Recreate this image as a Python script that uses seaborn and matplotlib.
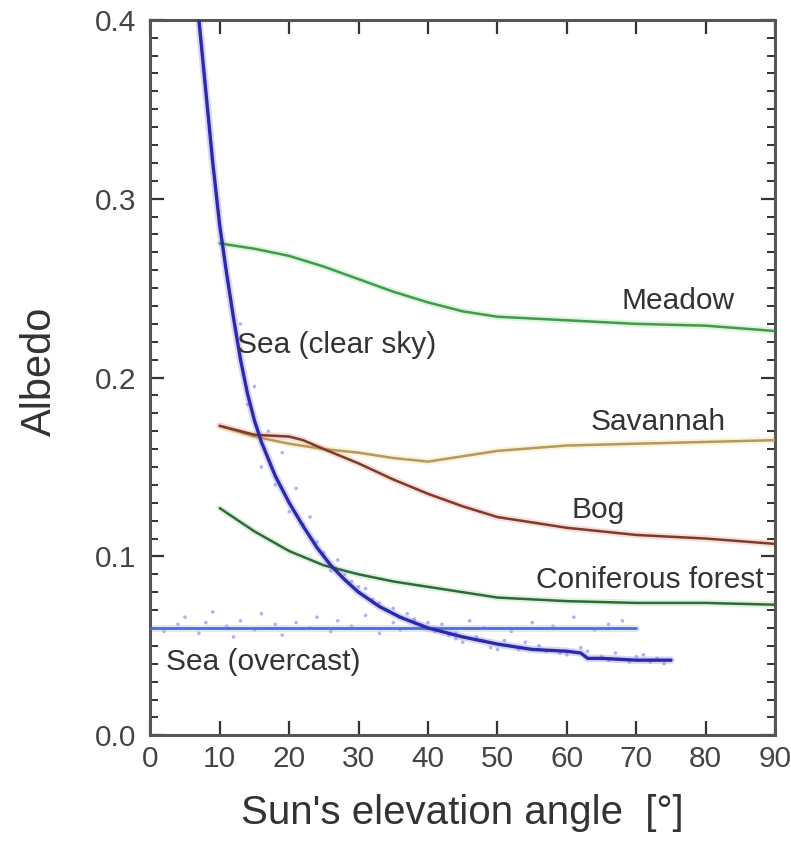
import matplotlib
matplotlib.use("Agg")
import matplotlib.pyplot as plt
import seaborn as sns
import pandas as pd
from matplotlib.ticker import MultipleLocator

# ---- data ----
meadow_x = [10, 15, 20, 25, 30, 35, 40, 45, 50, 55, 60, 70, 80, 90]
meadow_y = [0.275, 0.272, 0.268, 0.262, 0.255, 0.248, 0.242, 0.237, 0.234, 0.233, 0.232, 0.230, 0.229, 0.226]

savannah_x = [10, 15, 20, 25, 30, 35, 40, 45, 50, 60, 70, 80, 90]
savannah_y = [0.173, 0.167, 0.163, 0.160, 0.158, 0.155, 0.153, 0.156, 0.159, 0.162, 0.163, 0.164, 0.165]

bog_x = [10, 15, 20, 22, 25, 30, 35, 40, 45, 50, 60, 70, 80, 90]
bog_y = [0.173, 0.168, 0.167, 0.165, 0.160, 0.152, 0.143, 0.135, 0.128, 0.122, 0.116, 0.112, 0.110, 0.107]

conif_x = [10, 15, 20, 25, 30, 35, 40, 50, 60, 70, 80, 90]
conif_y = [0.127, 0.114, 0.103, 0.095, 0.090, 0.086, 0.083, 0.077, 0.075, 0.074, 0.074, 0.073]

clear_x = [6.5, 7, 8, 9, 10, 11, 12, 13, 14, 15, 16, 18, 20, 22, 24, 26, 28, 30, 33, 36,
           40, 45, 50, 55, 60, 62, 63, 65, 70, 75]
clear_y = [0.42, 0.40, 0.36, 0.32, 0.285, 0.258, 0.233, 0.210, 0.191, 0.176, 0.164, 0.145, 0.130,
           0.117, 0.105, 0.095, 0.087, 0.080, 0.072, 0.066, 0.060, 0.055, 0.051, 0.048, 0.047,
           0.046, 0.043, 0.043, 0.042, 0.042]

overcast_x = [0, 70]
overcast_y = [0.060, 0.060]

pts_x = [2, 4, 5, 7, 8, 9, 11, 12, 13, 15, 16, 18, 19, 21, 23, 24, 26, 27, 29, 31, 33, 35, 36,
         38, 42, 44, 46, 48, 52, 55, 58, 61, 64, 66, 68,
         13, 14, 15, 16, 17, 18, 19, 20, 21, 22, 23, 25, 27, 28, 30, 32, 34, 37, 39, 41, 43,
         45, 47, 49, 51, 53, 56, 59, 62, 65, 67, 69, 71, 73, 74,
         24, 26, 29, 31, 33, 35, 38, 40, 42, 44, 48, 50, 54, 57, 60, 63, 66, 70, 72]
pts_y = [0.058, 0.062, 0.066, 0.057, 0.063, 0.069, 0.061, 0.055, 0.064, 0.059, 0.068, 0.062,
         0.056, 0.063, 0.060, 0.066, 0.058, 0.064, 0.061, 0.067, 0.057, 0.063, 0.059,
         0.065, 0.062, 0.057, 0.064, 0.060, 0.058, 0.063, 0.061, 0.066, 0.059, 0.062, 0.064,
         0.230, 0.185, 0.195, 0.150, 0.170, 0.140, 0.158, 0.125, 0.138, 0.118, 0.122, 0.102,
         0.098, 0.090, 0.083, 0.076, 0.070, 0.068, 0.062, 0.058, 0.056, 0.052, 0.055, 0.049,
         0.053, 0.048, 0.050, 0.046, 0.049, 0.044, 0.046, 0.041, 0.045, 0.043, 0.040,
         0.108, 0.092, 0.086, 0.082, 0.074, 0.071, 0.064, 0.063, 0.058, 0.054, 0.053, 0.048,
         0.052, 0.047, 0.045, 0.047, 0.042, 0.044, 0.041]

labels = ["Meadow", "Sea (clear sky)", "Savannah", "Bog", "Coniferous forest", "Sea (overcast)"]
label_x = [76.0, 12.5, 73.1, 64.5, 72.0, 2.2]
label_y = [0.243, 0.218, 0.175, 0.126, 0.087, 0.041]

xticks = [0, 10, 20, 30, 40, 50, 60, 70, 80, 90]
yticks = [0.0, 0.1, 0.2, 0.3, 0.4]

# ---- plotting ----
sns.set_style("ticks")
plt.rcParams['font.family'] = ['Liberation Sans', 'DejaVu Sans']

fig = plt.figure(figsize=(7.91, 8.60), dpi=100)
ax = fig.add_axes([0.19, 0.145, 0.79, 0.832])

pts = pd.DataFrame({"x": pts_x, "y": pts_y})
sns.scatterplot(data=pts, x="x", y="y", ax=ax, s=7, color="#8a98ee", edgecolor="none",
                alpha=0.7, zorder=1)

def curve(xs, ys, color, halo, lw=1.8):
    df = pd.DataFrame({"x": xs, "y": ys})
    sns.lineplot(data=df, x="x", y="y", ax=ax, color=halo, lw=lw + 3, alpha=0.35, zorder=2)
    sns.lineplot(data=df, x="x", y="y", ax=ax, color=color, lw=lw, zorder=3)

curve(meadow_x, meadow_y, "#45984f", "#9be39b")
curve(savannah_x, savannah_y, "#b59a5e", "#f5dc9a")
curve(bog_x, bog_y, "#7e3a2e", "#e7a48a")
curve(conif_x, conif_y, "#2f6a3e", "#a8dca0")
curve(overcast_x, overcast_y, "#4a6fd6", "#aabdf5", lw=2.0)
curve(clear_x, clear_y, "#2b2aa8", "#8d8cf0", lw=2.4)

for t, lx, ly in zip(labels, label_x, label_y):
    ax.text(lx, ly, t, fontsize=21.5, color="#333333",
            ha="left" if t.startswith("Sea") else "center", va="center")

ax.set_xlim(0, 90)
ax.set_ylim(0.0, 0.4)
ax.set_xticks(xticks)
ax.set_yticks(yticks)
ax.set_yticklabels([f"{v:.1f}" for v in yticks])
ax.yaxis.set_minor_locator(MultipleLocator(0.01))
ax.tick_params(axis="both", which="major", direction="in", length=10, width=1.6,
               labelsize=21.5, colors="#333333", top=True, right=True)
ax.tick_params(axis="y", which="major", pad=10)
ax.tick_params(axis="x", which="major", pad=7)
ax.tick_params(axis="y", which="minor", direction="in", length=5.5, width=1.4,
               left=True, right=True, colors="#333333")
ax.tick_params(axis="x", labelcolor="#444444")
ax.tick_params(axis="y", labelcolor="#444444")
for s in ax.spines.values():
    s.set_linewidth(2.2)
    s.set_color("#555555")

ax.set_xlabel("Sun's elevation angle  [°]", fontsize=29, color="#333333")
ax.set_ylabel("Albedo", fontsize=30, color="#333333")
ax.xaxis.set_label_coords(0.5, -0.082)
ax.yaxis.set_label_coords(-0.145, 0.509)

fig.savefig("out.png", dpi=100)
